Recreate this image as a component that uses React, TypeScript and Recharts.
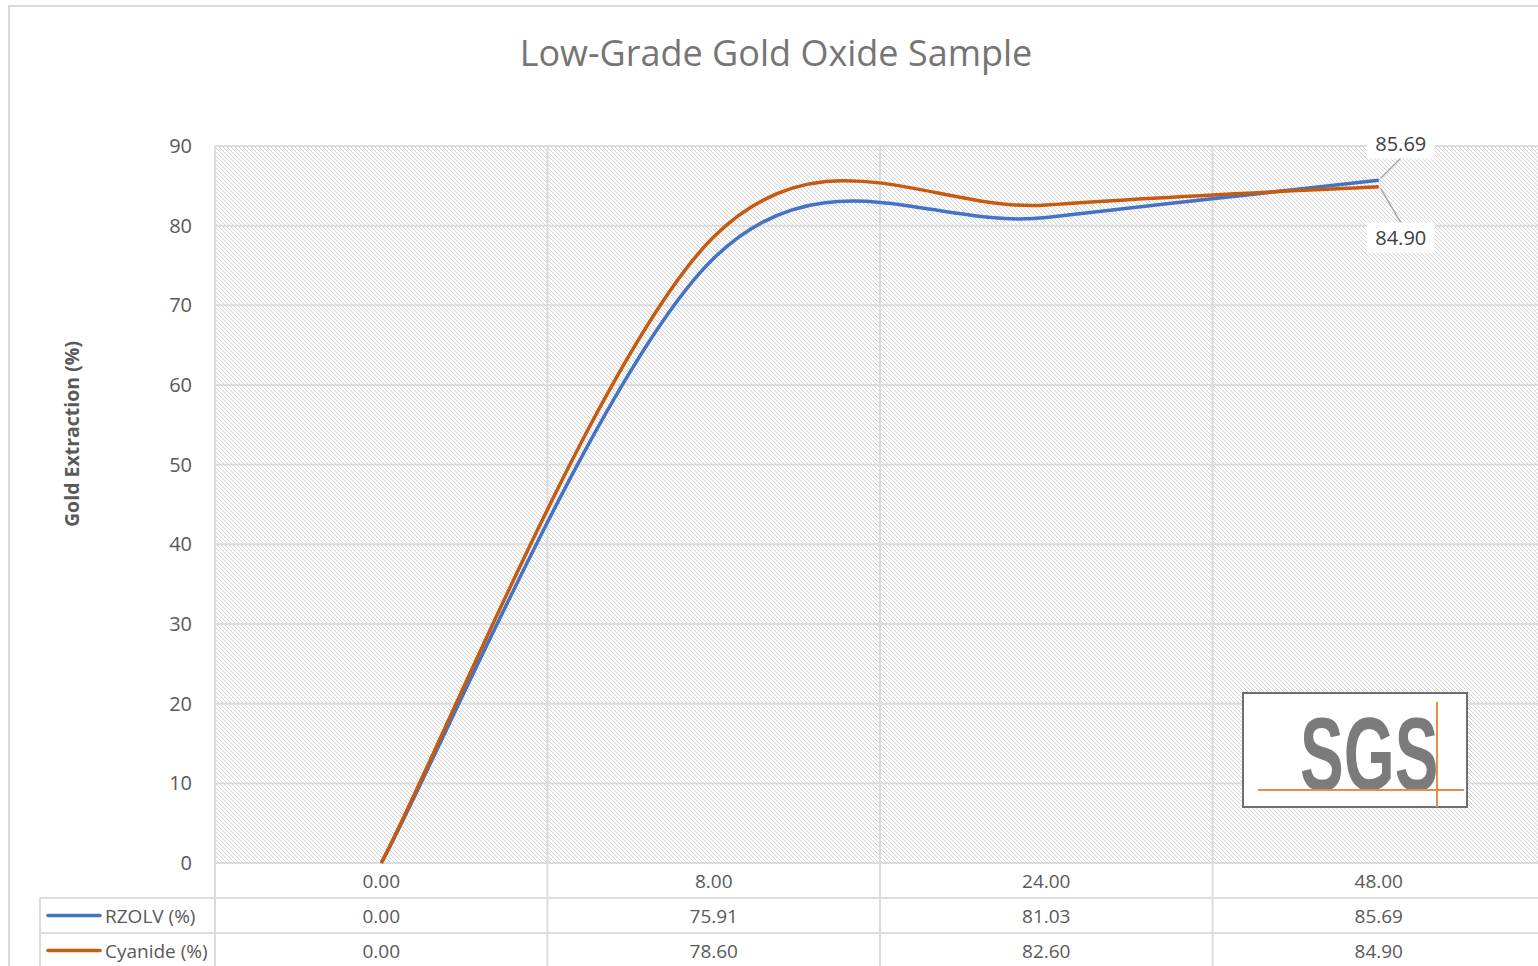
import React from 'react';
import { LineChart, Line, XAxis, YAxis, CartesianGrid, LabelList } from 'recharts';

const hours = ['0.00', '8.00', '24.00', '48.00'];
const rzolv = [0.0, 75.91, 81.03, 85.69];
const cyanide = [0.0, 78.6, 82.6, 84.9];
const yTicks = [0, 10, 20, 30, 40, 50, 60, 70, 80, 90];

const seriesList = [
  { key: 'rzolv', name: 'RZOLV (%)', color: '#4472C4', values: rzolv, dir: -1 },
  { key: 'cyanide', name: 'Cyanide (%)', color: '#C55A11', values: cyanide, dir: 1 },
];

const data = hours.map((h, i) => ({ hour: h, rzolv: rzolv[i], cyanide: cyanide[i] }));

// layout
const CHART_W = 1560;
const CHART_H = 966;
const M_LEFT = 40;
const Y_W = 175;
const M_RIGHT = 15;
const M_TOP = 146;
const X_H = 103;
const PLOT_W = CHART_W - M_LEFT - Y_W - M_RIGHT;
const BAND = PLOT_W / hours.length;
const ROW_H = 35;
const GRID = '#dcdcdc';
const TEXT = '#595959';
const FONT = '"Open Sans", "Noto Sans", sans-serif';

// Excel style smoothing (Catmull-Rom through the points)
const excelSmooth = (context: any) => {
  let pts: number[][] = [];
  return {
    areaStart() {},
    areaEnd() {},
    lineStart() {
      pts = [];
    },
    point(x: number, y: number) {
      pts.push([+x, +y]);
    },
    lineEnd() {
      if (!pts.length) return;
      context.moveTo(pts[0][0], pts[0][1]);
      for (let i = 0; i < pts.length - 1; i++) {
        const p0 = pts[Math.max(i - 1, 0)];
        const p1 = pts[i];
        const p2 = pts[i + 1];
        const p3 = pts[Math.min(i + 2, pts.length - 1)];
        context.bezierCurveTo(
          p1[0] + (p2[0] - p0[0]) / 6,
          p1[1] + (p2[1] - p0[1]) / 6,
          p2[0] - (p3[0] - p1[0]) / 6,
          p2[1] - (p3[1] - p1[1]) / 6,
          p2[0],
          p2[1]
        );
      }
    },
  };
};

const TableTick = (props: any) => {
  const { x, payload, index } = props;
  const top = CHART_H - X_H;
  const left = x - BAND / 2;
  return (
    <g>
      <line x1={left} y1={top} x2={left} y2={CHART_H} stroke={GRID} strokeWidth={2} />
      <text x={x} y={top + ROW_H / 2} textAnchor="middle" dominantBaseline="central" fontSize={19} fill={TEXT}>
        {payload.value}
      </text>
      {seriesList.map((s, r) => (
        <text
          key={s.key}
          x={x}
          y={top + ROW_H * (r + 1.5)}
          textAnchor="middle"
          dominantBaseline="central"
          fontSize={19}
          fill={TEXT}
        >
          {s.values[index].toFixed(2)}
        </text>
      ))}
      {index === 0 && (
        <g>
          {seriesList.map((s, r) => (
            <g key={s.key}>
              <line
                x1={M_LEFT}
                y1={top + ROW_H * (r + 1)}
                x2={CHART_W}
                y2={top + ROW_H * (r + 1)}
                stroke={GRID}
                strokeWidth={2}
              />
              <line
                x1={M_LEFT + 8}
                y1={top + ROW_H * (r + 1.5)}
                x2={M_LEFT + 60}
                y2={top + ROW_H * (r + 1.5)}
                stroke={s.color}
                strokeWidth={3.5}
                strokeLinecap="round"
              />
              <text
                x={M_LEFT + 65}
                y={top + ROW_H * (r + 1.5)}
                dominantBaseline="central"
                fontSize={19}
                fill={TEXT}
              >
                {s.name}
              </text>
            </g>
          ))}
          <line x1={M_LEFT} y1={top + ROW_H} x2={M_LEFT} y2={CHART_H} stroke={GRID} strokeWidth={2} />
        </g>
      )}
    </g>
  );
};

const endLabel = (dir: number) => (props: any) => {
  const { x, y, value, index } = props;
  if (index !== hours.length - 1) return null;
  const cx = x + 22;
  const cy = y + (dir < 0 ? -37 : 51);
  return (
    <g>
      <line
        x1={x + 2}
        y1={y + dir * 2}
        x2={cx}
        y2={cy + (dir < 0 ? 15 : -15)}
        stroke="#a6a6a6"
        strokeWidth={1.5}
      />
      <rect x={cx - 34} y={cy - 15} width={68} height={30} fill="#ffffff" />
      <text x={cx} y={cy} textAnchor="middle" dominantBaseline="central" fontSize={20} fill="#404040">
        {Number(value).toFixed(2)}
      </text>
    </g>
  );
};

const AxisTitle = (props: any) => {
  const { viewBox } = props;
  const x = viewBox.x + 31;
  const y = 434;
  return (
    <text
      x={x}
      y={y}
      transform={`rotate(-90, ${x}, ${y})`}
      textAnchor="middle"
      dominantBaseline="central"
      fontSize={19.5}
      fontWeight="bold"
      fill={TEXT}
    >
      Gold Extraction (%)
    </text>
  );
};

export default function App() {
  return (
    <div
      style={{
        position: 'absolute',
        left: 0,
        top: 0,
        width: 1538,
        height: 966,
        overflow: 'hidden',
        background: '#fff',
        fontFamily: FONT,
      }}
    >
      <svg width={0} height={0} style={{ position: 'absolute' }}>
        <defs>
          <pattern id="hatch" patternUnits="userSpaceOnUse" width={4} height={4}>
            <rect width={4} height={4} fill="#ffffff" />
            <path d="M0,0 L4,4 M-1,3 L1,5 M3,-1 L5,1" stroke="#d2d2d2" strokeWidth={1} />
          </pattern>
        </defs>
      </svg>
      <div
        style={{
          position: 'absolute',
          left: 8,
          top: 5,
          width: 1600,
          height: 1000,
          border: '2px solid #d9d9d9',
        }}
      />
      <div
        style={{
          position: 'absolute',
          left: 0,
          top: 28,
          width: 1552,
          textAlign: 'center',
          fontSize: 36,
          color: '#757575',
        }}
      >
        Low-Grade Gold Oxide Sample
      </div>
      <div style={{ position: 'absolute', left: 0, top: 0 }}>
        <LineChart
          width={CHART_W}
          height={CHART_H}
          data={data}
          margin={{ top: M_TOP, right: M_RIGHT, bottom: 0, left: M_LEFT }}
        >
          <CartesianGrid
            fill="url(#hatch)"
            stroke={GRID}
            strokeWidth={2}
            verticalCoordinatesGenerator={({ offset }: any) =>
              hours.map((_, i) => offset.left + (i * offset.width) / hours.length)
            }
          />
          <XAxis
            dataKey="hour"
            height={X_H}
            interval={0}
            padding={{ left: BAND / 2, right: BAND / 2 }}
            axisLine={false}
            tickLine={false}
            tick={<TableTick />}
          />
          <YAxis
            width={Y_W}
            domain={[0, 90]}
            ticks={yTicks}
            axisLine={false}
            tickLine={false}
            tickSize={0}
            tickMargin={23}
            tick={{ fontSize: 20, fill: TEXT }}
            label={<AxisTitle />}
          />
          {seriesList.map((s) => (
            <Line
              key={s.key}
              dataKey={s.key}
              name={s.name}
              type={excelSmooth as any}
              stroke={s.color}
              strokeWidth={3.5}
              dot={false}
              activeDot={false}
              isAnimationActive={false}
            >
              <LabelList dataKey={s.key} content={endLabel(s.dir)} />
            </Line>
          ))}
        </LineChart>
      </div>
      <svg width={280} height={130} style={{ position: 'absolute', left: 1236, top: 686 }}>
        <rect x={7} y={7} width={224} height={114} fill="#ffffff" stroke="#6f6f6f" strokeWidth={2} />
        <text
          x={0}
          y={0}
          transform="translate(64,104) scale(0.63,1)"
          fontSize={104}
          fontWeight="bold"
          fill="#7b7b7b"
          fontFamily='"Liberation Sans", sans-serif'
        >
          SGS
        </text>
        <line x1={22} y1={104} x2={228} y2={104} stroke="#ec8a4c" strokeWidth={2} />
        <line x1={201} y1={16} x2={201} y2={121} stroke="#ec8a4c" strokeWidth={2} />
      </svg>
    </div>
  );
}
